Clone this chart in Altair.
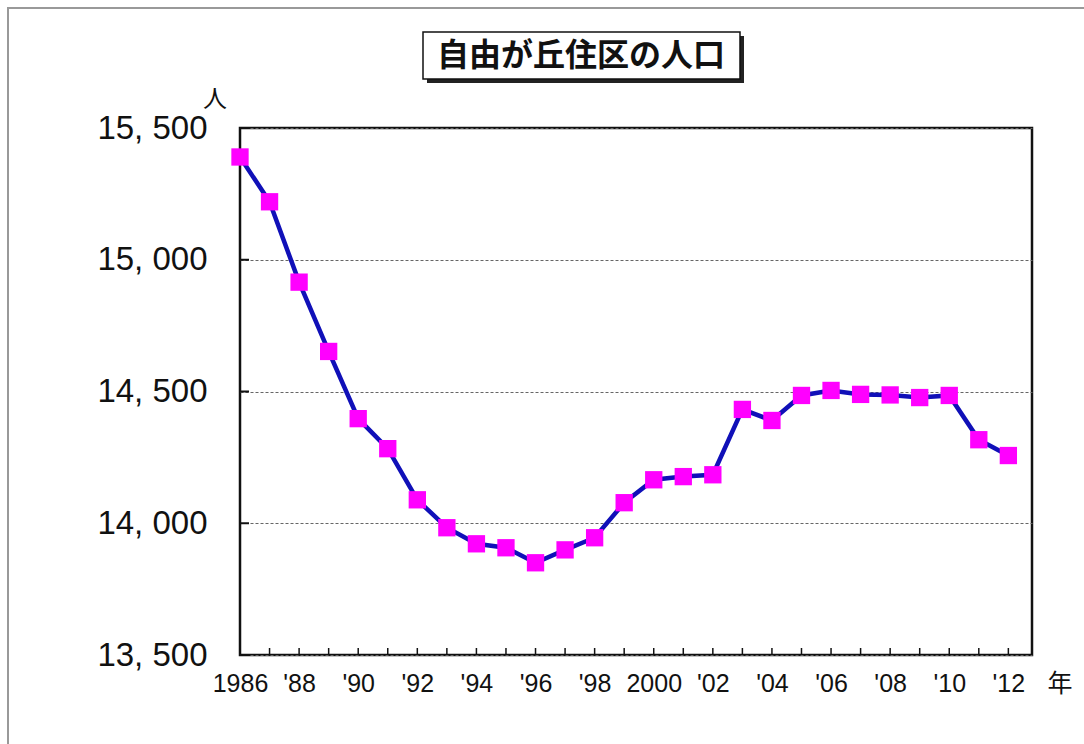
import altair as alt
import pandas as pd

years = list(range(1986, 2013))
population = [15390, 15220, 14915, 14652, 14397, 14283, 14089, 13983, 13922, 13907,
              13850, 13899, 13945, 14078, 14165, 14177, 14184, 14432, 14390, 14485,
              14504, 14489, 14487, 14477, 14485, 14317, 14257]
y_ticks = [13500, 14000, 14500, 15000, 15500]
x_label_years = list(range(1986, 2013, 2))
title_text = "自由が丘住区の人口"
y_unit = "人"
x_unit = "年"

df = pd.DataFrame({"year": years, "pop": population})
W, H = 792, 527
NUMF = "Liberation Sans"
CJK = "Noto Sans CJK JP"

xscale = alt.Scale(domain=[1986, 2012.8], nice=False, zero=False)
yscale = alt.Scale(domain=[13500, 15500], nice=False, zero=False)

x_axis = alt.Axis(
    values=x_label_years, title=None, ticks=False, domain=False, grid=False,
    labelExpr="datum.value == 1986 || datum.value == 2000 ? format(datum.value, 'd') : \"'\" + slice(format(datum.value, 'd'), 2)",
    labelFont=NUMF, labelFontSize=25, labelColor="#111", labelPadding=16,
    labelFlush=False, labelOverlap=False,
)
y_axis = alt.Axis(
    values=y_ticks, title=None, ticks=False, domain=False,
    grid=True, gridDash=[3, 2], gridColor="#666", gridWidth=1,
    labelExpr="replace(format(datum.value, ','), ',', ', ')",
    labelFont=NUMF, labelFontSize=33, labelColor="#111", labelPadding=33,
    labelFlush=False, labelOverlap=False,
)

base = alt.Chart(df)

line = base.mark_line(color="#1010B8", strokeWidth=4.5).encode(
    x=alt.X("year:Q", scale=xscale, axis=x_axis),
    y=alt.Y("pop:Q", scale=yscale, axis=y_axis),
)
points = base.mark_square(color="#FF00FF", opacity=1, size=300).encode(
    x=alt.X("year:Q", scale=xscale),
    y=alt.Y("pop:Q", scale=yscale),
)

xt = pd.DataFrame({"year": years})
x_ticks = alt.Chart(xt).mark_rule(color="#111", strokeWidth=1.5).encode(
    x=alt.X("year:Q", scale=xscale), y=alt.value(H), y2=alt.value(H - 7)
)
yt = pd.DataFrame({"v": y_ticks})
y_tick_marks = alt.Chart(yt).mark_rule(color="#111", strokeWidth=2).encode(
    y=alt.Y("v:Q", scale=yscale), x=alt.value(0), x2=alt.value(9)
)

one = alt.Data(values=[{"t": title_text, "yu": y_unit, "xu": x_unit}])

frame = alt.Chart(one).mark_rect(fill=None, stroke="#999", strokeWidth=2).encode(
    x=alt.value(-232), x2=alt.value(860), y=alt.value(-120), y2=alt.value(640)
)
shadow = alt.Chart(one).mark_rect(fill="#222", stroke=None).encode(
    x=alt.value(187), x2=alt.value(504), y=alt.value(-92), y2=alt.value(-45)
)
tbox = alt.Chart(one).mark_rect(fill="white", stroke="#111", strokeWidth=1.5).encode(
    x=alt.value(183), x2=alt.value(500), y=alt.value(-96), y2=alt.value(-49)
)
ttext = alt.Chart(one).mark_text(
    font=CJK, fontSize=32, fontWeight="bold", color="#111", align="center", baseline="middle"
).encode(text="t:N", x=alt.value(341), y=alt.value(-72))
yunit = alt.Chart(one).mark_text(
    font=CJK, fontSize=24, color="#111", align="center", baseline="middle"
).encode(text="yu:N", x=alt.value(-25), y=alt.value(-28))
xunit = alt.Chart(one).mark_text(
    font=CJK, fontSize=25, color="#111", align="center", baseline="middle"
).encode(text="xu:N", x=alt.value(820), y=alt.value(H + 29))

chart = alt.layer(
    frame, line, points, x_ticks, y_tick_marks, shadow, tbox, ttext, yunit, xunit
).properties(
    width=W, height=H,
    autosize=alt.AutoSizeParams(type="none"),
    padding={"left": 240, "top": 128, "right": 52, "bottom": 89},
    background="white",
).configure_view(stroke="#111", strokeWidth=2.5)

chart.save("out.html", embed_options={"renderer": "svg", "actions": False})
